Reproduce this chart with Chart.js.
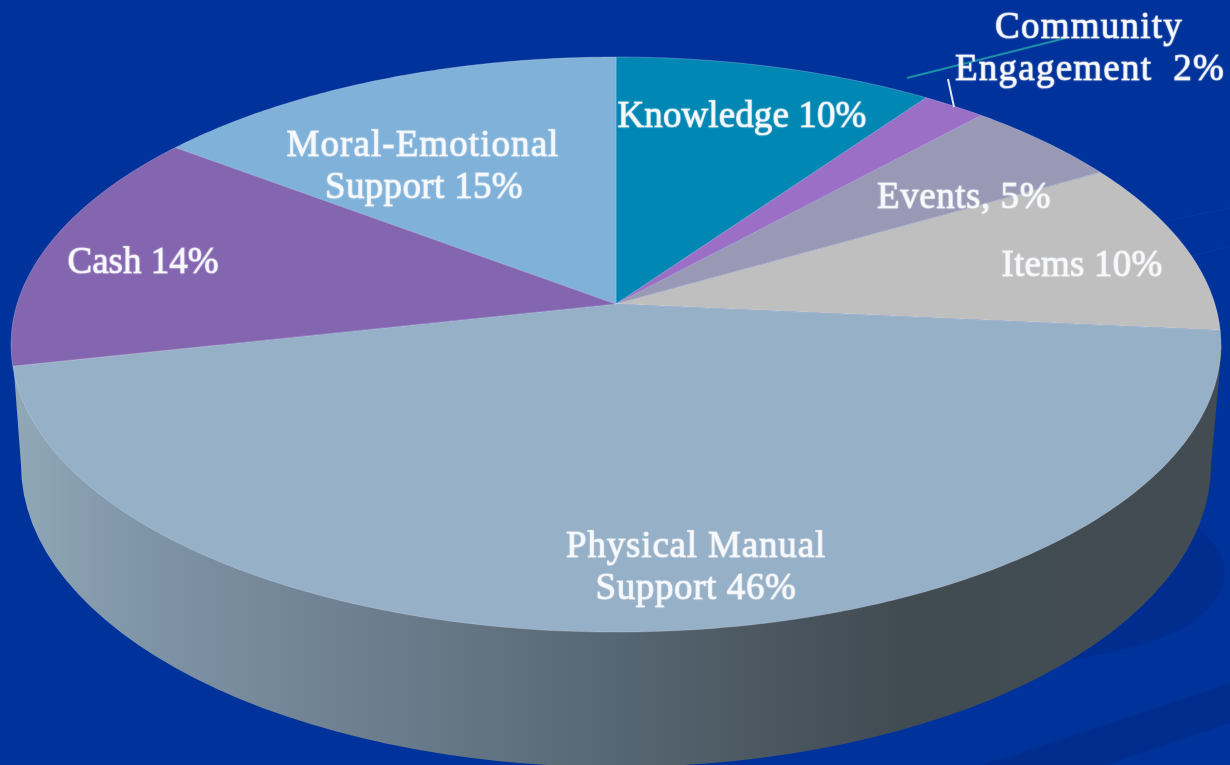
<!DOCTYPE html>
<html>
<head>
<meta charset="utf-8">
<title>Pie</title>
<script src="https://cdn.jsdelivr.net/npm/chart.js@4/dist/chart.umd.js"></script>
<style>
    html, body { margin: 0; padding: 0; background: #00329b; overflow: hidden; }
    canvas { display: block; }
</style>
</head>
<body>
<canvas id="pie" width="1230" height="765"></canvas>
<script>
// Chart data
const categories = ['Knowledge', 'Community Engagement', 'Events', 'Items', 'Physical Manual Support', 'Cash', 'Moral-Emotional Support'];
const percents = [10, 2, 5, 10, 46, 14, 15];
const sliceColors = ['#0087b3', '#9c6fc6', '#9999b6', '#bfbfbf', '#95b0c7', '#8466b0', '#80b2d9'];
const sliceLabels = [
    ['Knowledge 10%'],
    ['Community', 'Engagement  2%'],
    ['Events, 5%'],
    ['Items 10%'],
    ['Physical Manual', 'Support 46%'],
    ['Cash 14%'],
    ['Moral-Emotional', 'Support 15%']
];

// Label placement: [center x, baseline y, width] per line
const labelBoxes = [
    [[742, 127, 249]],
    [[1089, 38, 188], [1090, 80, 270]],
    [[964, 208, 174]],
    [[1082, 276, 161]],
    [[696, 557, 260], [696, 599, 201]],
    [[143, 273, 151]],
    [[423, 156, 273], [424, 198, 198]]
];

// Perspective of the pie top, relative to the arc's radius
const view = { sx: 1.97, sy: 0.927, tilt: 0.141 };

function project(arc, angle) {
    const u = Math.cos(angle);
    const v = Math.sin(angle);
    const w = 1 - view.tilt * v;
    return [
        arc.x + arc.outerRadius * view.sx * u / w,
        arc.y + arc.outerRadius * view.sy * v / w
    ];
}

// Slices go through the tilted projection instead of a flat circle
Chart.ArcElement.prototype.draw = function(ctx) {
    const steps = Math.max(4, Math.ceil((this.endAngle - this.startAngle) * 90));
    ctx.save();
    ctx.beginPath();
    ctx.moveTo(this.x, this.y);
    for (let i = 0; i <= steps; i++) {
        const a = this.startAngle + (this.endAngle - this.startAngle) * i / steps;
        const p = project(this, a);
        ctx.lineTo(p[0], p[1]);
    }
    ctx.closePath();
    ctx.fillStyle = this.options.backgroundColor;
    ctx.fill();
    ctx.strokeStyle = 'rgba(225, 225, 245, 0.28)';
    ctx.lineWidth = 1;
    ctx.stroke();
    ctx.restore();
};

const backdropPlugin = {
    id: 'backdrop',
    beforeDraw(chart) {
        const ctx = chart.ctx;
        ctx.save();
        ctx.fillStyle = '#00329b';
        ctx.fillRect(0, 0, chart.width, chart.height);

        // Darker swooshes in the corner
        ctx.fillStyle = '#002d8e';
        ctx.beginPath();
        ctx.moveTo(983, 765);
        ctx.lineTo(1230, 683);
        ctx.lineTo(1230, 723);
        ctx.lineTo(1107, 765);
        ctx.closePath();
        ctx.fill();

        ctx.beginPath();
        ctx.moveTo(1190, 522);
        ctx.quadraticCurveTo(1225, 548, 1225, 573);
        ctx.quadraticCurveTo(1222, 622, 1133, 647);
        ctx.lineTo(1075, 660);
        ctx.lineTo(1040, 640);
        ctx.closePath();
        ctx.fill();

        ctx.strokeStyle = '#0a3a9f';
        ctx.lineWidth = 1;
        ctx.beginPath();
        ctx.moveTo(1165, 221);
        ctx.lineTo(1230, 208);
        ctx.moveTo(1192, 256);
        ctx.lineTo(1230, 246);
        ctx.stroke();
        ctx.restore();
    },
    beforeDatasetsDraw(chart) {
        // Side wall of the disc
        const ctx = chart.ctx;
        const wall = ctx.createLinearGradient(20, 0, 1210, 0);
        wall.addColorStop(0, '#90a7b7');
        wall.addColorStop(0.1, '#7f95a8');
        wall.addColorStop(0.32, '#6a7b8b');
        wall.addColorStop(0.5, '#566672');
        wall.addColorStop(0.74, '#414b52');
        wall.addColorStop(1, '#434c53');
        ctx.save();
        ctx.fillStyle = wall;
        ctx.beginPath();
        ctx.moveTo(12, 345);
        ctx.lineTo(21, 465);
        ctx.ellipse(616, 465, 595, 302, 0, Math.PI, 0, true);
        ctx.lineTo(1222, 345);
        ctx.closePath();
        ctx.fill();
        ctx.restore();
    },
    afterDatasetsDraw(chart) {
        const ctx = chart.ctx;
        ctx.save();
        // Leader lines
        ctx.lineWidth = 2;
        ctx.strokeStyle = '#1b8fa9';
        ctx.beginPath();
        ctx.moveTo(907, 78);
        ctx.lineTo(1066, 38);
        ctx.stroke();
        ctx.strokeStyle = '#dfe6f2';
        ctx.beginPath();
        ctx.moveTo(948, 79);
        ctx.lineTo(954, 107);
        ctx.stroke();

        // Slice labels, spaced out to the width they have in the picture
        ctx.font = '37px "Liberation Serif"';
        ctx.textAlign = 'center';
        ctx.textBaseline = 'alphabetic';
        ctx.fillStyle = '#f7f9fc';
        ctx.strokeStyle = 'rgba(247, 249, 252, 0.6)';
        ctx.lineWidth = 1.1;
        ctx.shadowColor = 'rgba(255, 255, 255, 0.4)';
        ctx.shadowBlur = 2;
        sliceLabels.forEach((lines, i) => {
            lines.forEach((line, j) => {
                const box = labelBoxes[i][j];
                ctx.letterSpacing = '0px';
                const extra = (box[2] - ctx.measureText(line).width) / line.length;
                ctx.letterSpacing = extra.toFixed(2) + 'px';
                ctx.fillText(line, box[0], box[1]);
                ctx.strokeText(line, box[0], box[1]);
            });
        });
        ctx.restore();
    }
};

new Chart(document.getElementById('pie'), {
    type: 'pie',
    data: {
        labels: categories,
        datasets: [{
            data: percents,
            backgroundColor: sliceColors,
            borderWidth: 0
        }]
    },
    options: {
        responsive: false,
        animation: false,
        layout: { padding: { left: 2, right: 0, top: 0, bottom: 157 } },
        plugins: {
            legend: { display: false },
            tooltip: { enabled: false }
        }
    },
    plugins: [backdropPlugin]
});
</script>
</body>
</html>
